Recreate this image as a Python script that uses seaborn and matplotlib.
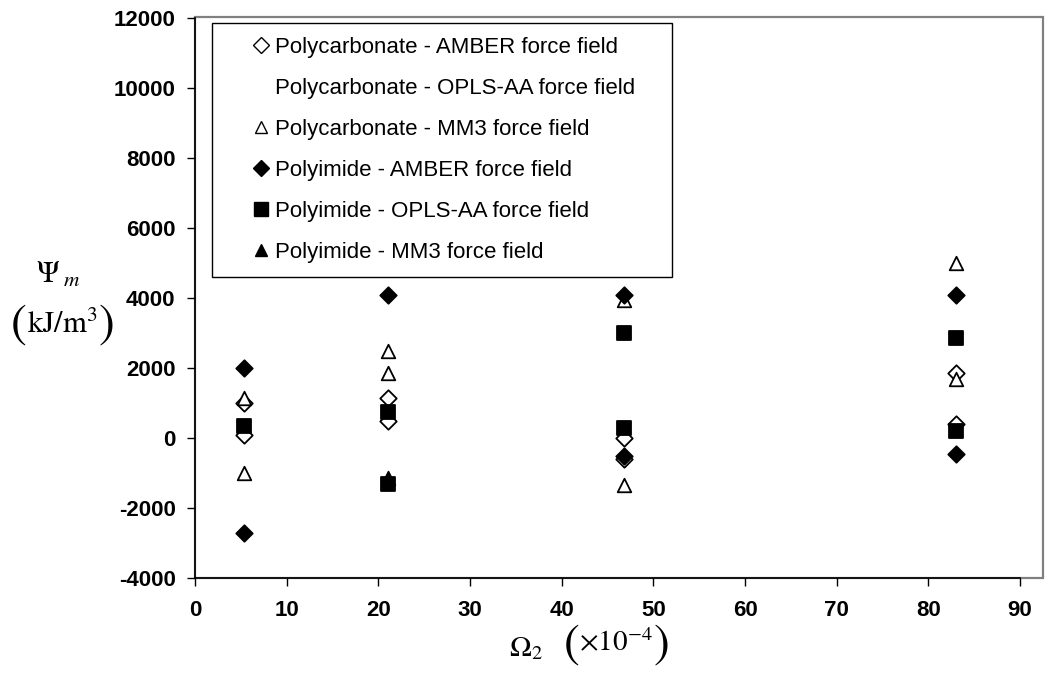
import matplotlib
matplotlib.use("Agg")
import matplotlib.pyplot as plt
import seaborn as sns
import pandas as pd
from matplotlib.lines import Line2D
from matplotlib.patches import Rectangle

sns.set_theme(style="white")
plt.rcParams['font.family'] = ['Liberation Sans', 'DejaVu Sans']
plt.rcParams['mathtext.fontset'] = 'stix'
plt.rcParams['text.color'] = 'black'
plt.rcParams['xtick.color'] = 'black'
plt.rcParams['ytick.color'] = 'black'
plt.rcParams['axes.labelcolor'] = 'black'

# ---- data ----
pc_amber_x = [5.3, 5.3, 21, 21, 46.8, 46.8, 83, 83]
pc_amber_y = [1000, 100, 1150, 500, 0, -600, 1850, 400]

pc_opls_x = []
pc_opls_y = []

pc_mm3_x = [5.3, 5.3, 21, 21, 46.8, 46.8, 83, 83]
pc_mm3_y = [1150, -1000, 2500, 1850, 3950, -1350, 5000, 1700]

pi_amber_x = [5.3, 5.3, 21, 46.8, 46.8, 83, 83]
pi_amber_y = [2000, -2700, 4100, 4100, -500, 4100, -450]

pi_opls_x = [5.3, 21, 21, 46.8, 46.8, 83, 83]
pi_opls_y = [350, 750, -1300, 3000, 300, 2850, 200]

pi_mm3_x = [21]
pi_mm3_y = [-1150]

labels = ["Polycarbonate - AMBER force field",
          "Polycarbonate - OPLS-AA force field",
          "Polycarbonate - MM3 force field",
          "Polyimide - AMBER force field",
          "Polyimide - OPLS-AA force field",
          "Polyimide - MM3 force field"]

x_ticks = [0, 10, 20, 30, 40, 50, 60, 70, 80, 90]
y_ticks = [-4000, -2000, 0, 2000, 4000, 6000, 8000, 10000, 12000]

series = [
    (pc_amber_x, pc_amber_y, 'D', 'white', 70),
    (pc_opls_x, pc_opls_y, 'o', 'white', 0),
    (pc_mm3_x, pc_mm3_y, '^', 'white', 95),
    (pi_amber_x, pi_amber_y, 'D', 'black', 70),
    (pi_opls_x, pi_opls_y, 's', 'black', 110),
    (pi_mm3_x, pi_mm3_y, '^', 'black', 95),
]

W, H = 1060, 675
fig = plt.figure(figsize=(10.6, 6.75), dpi=100)

# plot-area border (grey box, wider than the axis range)
fig.add_artist(Rectangle((195/W, 1-578/H), (1043-195)/W, (578-17)/H,
                         transform=fig.transFigure, fill=False,
                         edgecolor='#808080', linewidth=1.6, zorder=0))

ax = fig.add_axes([195/W, 1-578/H, 825/W, 560/H])
ax.patch.set_alpha(0)

for i, (xs, ys, mk, fc, s) in enumerate(series):
    if len(xs) == 0:
        continue
    df = pd.DataFrame({'x': xs, 'y': ys})
    sns.scatterplot(data=df, x='x', y='y', marker=mk, s=s, color=fc,
                    edgecolor='black', linewidth=1.3, ax=ax, zorder=3 + i,
                    legend=False)

ax.set_xlim(0, 90)
ax.set_ylim(-4000, 12000)
ax.set_xticks(x_ticks)
ax.set_yticks(y_ticks)
ax.set_xticklabels([str(t) for t in x_ticks], fontsize=16, fontweight='bold')
ax.set_yticklabels([str(t) for t in y_ticks], fontsize=16, fontweight='bold')
ax.tick_params(axis='both', direction='out', length=6, width=1, color='black',
               bottom=True, left=True, labelcolor='black')
ax.tick_params(axis='y', pad=8)
ax.tick_params(axis='x', pad=10)
ax.set_xlabel('')
ax.set_ylabel('')
for side in ['left', 'bottom']:
    ax.spines[side].set_color('black')
    ax.spines[side].set_linewidth(1.2)
for side in ['top', 'right']:
    ax.spines[side].set_visible(False)

# legend
handles = []
mk_size = [8, 8, 9, 8, 10, 9]
for i, (xs, ys, mk, fc, s) in enumerate(series):
    if i == 1:
        h = Line2D([], [], linestyle='none', marker='D', markersize=7,
                   markerfacecolor='none', markeredgecolor='none')
    else:
        h = Line2D([], [], linestyle='none', marker=mk, markersize=mk_size[i],
                   markerfacecolor=fc, markeredgecolor='black',
                   markeredgewidth=1.0)
    handles.append(h)

leg = ax.legend(handles, labels, loc='upper left', mode='expand',
                bbox_to_anchor=(17/825, 1 - 254/560, 460/825, 249/560),
                borderaxespad=0,
                fontsize=16, frameon=True, fancybox=False, framealpha=1,
                edgecolor='black', handlelength=3.15, handletextpad=-0.95,
                borderpad=0.62, labelspacing=0.9, numpoints=1,
                labelcolor='black')
leg.get_frame().set_linewidth(1.0)
leg.set_zorder(20)

# axis labels
serif = ['STIXGeneral', 'Liberation Serif', 'DejaVu Serif']
fig.text(526/W, 1 - 648/H, r'$\Omega_2$', fontsize=21,
         ha='center', va='center')
fig.text(572/W, 1 - 645/H, '(', fontsize=34, family=serif,
         ha='center', va='center')
fig.text(616/W, 1 - 643/H, r'$\times10^{-4}$', fontsize=21,
         ha='center', va='center')
fig.text(662/W, 1 - 645/H, ')', fontsize=34, family=serif,
         ha='center', va='center')

fig.text(58/W, 1 - 275/H, r'$\Psi_{\;m}$', fontsize=22,
         ha='center', va='center')
fig.text(19/W, 1 - 325/H, '(', fontsize=34, family=serif,
         ha='center', va='center')
fig.text(62/W, 1 - 325/H, r'$\mathrm{kJ/m^3}$', fontsize=22,
         ha='center', va='center')
fig.text(107/W, 1 - 325/H, ')', fontsize=34, family=serif,
         ha='center', va='center')

fig.savefig('out.png', dpi=100)
